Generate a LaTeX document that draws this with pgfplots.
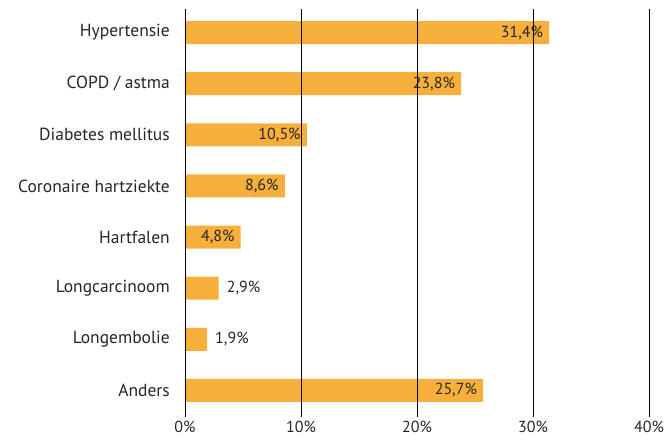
\documentclass[border=0pt]{standalone}
\usepackage{pgfplots}
\usepackage{pgfplotstable}
\usepackage{fontspec}
\setmainfont{PT Sans}
\pgfplotsset{compat=1.18}
\definecolor{barorange}{HTML}{F7AF3C}
\definecolor{txt}{HTML}{262626}

% bars with label inside the bar
\pgfplotstableread{
y val
0 31.4
1 23.8
2 10.5
3 8.6
4 4.8
7 25.7
}\inside
% bars with label beside the bar
\pgfplotstableread{
y val
5 2.9
6 1.9
}\outside

\begin{document}
\begin{tikzpicture}
\useasboundingbox (-185pt,-23pt) rectangle (483pt,417pt);
\begin{axis}[
    xbar,
    bar width=23pt,
    bar shift=0pt,
    scale only axis,
    width=464pt,
    height=408pt,
    xmin=0, xmax=40,
    ymin=-0.46, ymax=7.52,
    y dir=reverse,
    xtick={0,10,20,30,40},
    xticklabel={\pgfmathprintnumber{\tick}\%},
    ytick={0,...,7},
    yticklabels={Hypertensie,COPD / astma,Diabetes mellitus,Coronaire hartziekte,Hartfalen,Longcarcinoom,Longembolie,Anders},
    /pgf/number format/assume math mode=true,
    major tick length=0pt,
    axis line style={draw=none},
    xmajorgrids,
    grid style={black, line width=0.8pt},
    axis on top,
    yticklabel style={font=\fontsize{17.5}{19}\selectfont, text=txt, inner sep=0pt, xshift=-15pt},
    xticklabel style={font=\fontsize{16}{18}\selectfont, text=txt, inner sep=0pt, yshift=-4pt},
    nodes near coords={\pgfmathprintnumber[fixed,fixed zerofill,precision=1,use comma]{\pgfplotspointmeta}\%},
    point meta=explicit,
]
\addplot[fill=barorange, draw=none,
    nodes near coords style={font=\fontsize{16}{18}\selectfont, text=txt, anchor=east, inner sep=0pt, xshift=-6pt}]
    table[x=val, y=y, meta=val] {\inside};
\addplot[fill=barorange, draw=none,
    nodes near coords style={font=\fontsize{16}{18}\selectfont, text=txt, anchor=west, inner sep=0pt, xshift=8pt}]
    table[x=val, y=y, meta=val] {\outside};
\end{axis}
\end{tikzpicture}
\end{document}
